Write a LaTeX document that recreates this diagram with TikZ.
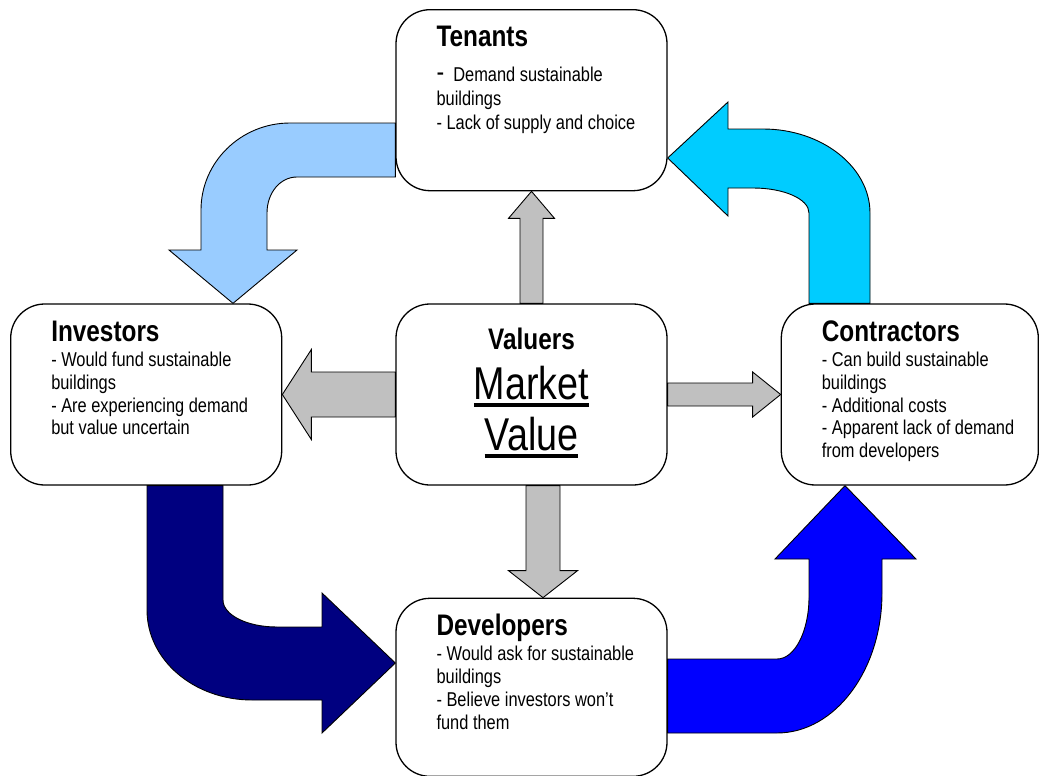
\documentclass[tikz,border=0pt]{standalone}
\usepackage{fontspec}
\setmainfont{Liberation Sans}[FakeStretch=0.82]
\usepackage{tikz}
\usetikzlibrary{positioning,calc}
\definecolor{tenantblue}{HTML}{99CCFF}
\definecolor{contractcyan}{HTML}{00CCFF}
\definecolor{investnavy}{HTML}{000080}
\definecolor{developblue}{HTML}{0000FF}
\definecolor{valuegrey}{HTML}{C0C0C0}
\newcommand{\bodyfont}{\fontsize{20}{22.8}\selectfont}
\newcommand{\headfont}{\fontsize{29.7}{34}\selectfont\bfseries}
\newcommand{\bigfont}{\fontsize{46}{51}\selectfont}
\newcommand{\ulword}[1]{\setbox0=\hbox{#1}\rlap{\rule[-8pt]{\wd0}{4pt}}\box0}
\tikzstyle{party} = [rectangle, draw, line width=1.3pt, fill=white, rounded corners=34pt,
    minimum width=271pt, minimum height=181pt, inner sep=0pt]
\tikzstyle{heading} = [anchor=base west, inner sep=0pt, font=\headfont]
\tikzstyle{bodytext} = [anchor=north west, inner sep=0pt, align=left, font=\bodyfont]
\tikzstyle{bigarrow} = [draw, line width=0.9pt, line join=miter]
% straight grey arrow: start, end, shaft half width, head half width, head length
\newcommand{\greyarrow}[5]{%
    \coordinate (hb) at ($(#2)!#5!(#1)$);
    \filldraw[bigarrow, fill=valuegrey] ($(#1)!#3!90:(#2)$) -- ($(hb)!#3!90:(#2)$)
        -- ($(hb)!#4!90:(#2)$) -- (#2) -- ($(hb)!#4!-90:(#2)$)
        -- ($(hb)!#3!-90:(#2)$) -- ($(#1)!#3!-90:(#2)$) -- cycle;}
\begin{document}
\begin{tikzpicture}[x=1pt, y=-1pt]
    \useasboundingbox (0,0) rectangle (1039,776);
    % Place nodes
    \node [party] (val) at (531.5,394.5) {};
    \node [party, above=112pt of val] (ten) {};
    \node [party, left=113pt of val] (inv) {};
    \node [party, right=113pt of val, minimum width=257pt] (con) {};
    \node [party, below=112pt of val, minimum height=178pt] (dev) {};

    % Draw edges
    \coordinate (dns) at ([xshift=11.5pt]val.south);
    \coordinate (dne) at ([xshift=11.5pt]dev.north);
    \greyarrow{val.north}{ten.south}{11.5pt}{23pt}{27pt}
    \greyarrow{val.west}{inv.east}{22.5pt}{45pt}{29pt}
    \greyarrow{val.east}{con.west}{11.5pt}{22.5pt}{28pt}
    \greyarrow{dns}{dne}{17pt}{34.5pt}{27pt}
    \filldraw [bigarrow, fill=tenantblue] (ten.west |- 0,123) -- (290,123)
        .. controls (241,123) and (201,162) .. (201,210) -- (201,250) -- (169,250)
        -- (inv.north -| 233,0) -- (297,250) -- (267,250) -- (267,213)
        .. controls (267,193) and (280,177) .. (297,177) -- (ten.west |- 0,177) -- cycle;
    \filldraw [bigarrow, fill=contractcyan] (con.north -| 809,0) -- (809,213)
        .. controls (809,199) and (784,188) .. (753,188) -- (728,188) -- (728,216)
        -- (ten.east |- 0,158) -- (728,102) -- (728,129) -- (763,129)
        .. controls (822,129) and (870,167) .. (870,213) -- (con.north -| 870,0) -- cycle;
    \filldraw [bigarrow, fill=investnavy] (inv.south -| 147,0) -- (147,610)
        .. controls (147,660) and (194,700) .. (252,700) -- (322,700) -- (322,733)
        -- (dev.west |- 0,663) -- (322,593) -- (322,627) -- (277,627)
        .. controls (247,627) and (223,615) .. (223,600) -- (inv.south -| 223,0) -- cycle;
    \filldraw [bigarrow, fill=developblue] (dev.east |- 0,733) -- (777,733)
        .. controls (835,733) and (882,670) .. (882,593) -- (882,559) -- (916,559)
        -- (con.south -| 845,0) -- (775,559) -- (809,559) -- (809,597)
        .. controls (809,631) and (795,659) .. (777,659) -- (dev.east |- 0,659) -- cycle;

    % Texts
    \node [heading] (tenhead) at ([shift={(41,37)}]ten.north west) {Tenants};
    \node [bodytext, font=\fontsize{20}{24}\selectfont] (tenbody) at ([shift={(41,56)}]ten.north west)
        {\rule{0pt}{16pt}{\fontsize{28}{24}\selectfont -}\ \ Demand sustainable\\ buildings\\ - Lack of supply and choice};
    \node [heading] (invhead) at ([shift={(41,38)}]inv.north west) {Investors};
    \node [bodytext] (invbody) at ([shift={(41,47)}]inv.north west)
        {\rule{0pt}{16pt}- Would fund sustainable\\ buildings\\ - Are experiencing demand\\ but value uncertain};
    \node [heading] (conhead) at ([shift={(41,38)}]con.north west) {Contractors};
    \node [bodytext] (conbody) at ([shift={(41,47)}]con.north west)
        {\rule{0pt}{16pt}- Can build sustainable\\ buildings\\ - Additional costs\\ - Apparent lack of demand\\ from developers};
    \node [heading] (devhead) at ([shift={(41,38)}]dev.north west) {Developers};
    \node [bodytext] (devbody) at ([shift={(41,47)}]dev.north west)
        {\rule{0pt}{16pt}- Would ask for sustainable\\ buildings\\ - Believe investors won’t\\ fund them};
    \node [anchor=base, inner sep=0pt, font=\headfont] (valuers) at ([yshift=-46pt]val.north) {Valuers};
    \node [anchor=base, inner sep=0pt, font=\bigfont] (market) at ([yshift=-96pt]val.north) {\ulword{Market}};
    \node [anchor=base, inner sep=0pt, font=\bigfont] (value) at ([yshift=-147pt]val.north) {\ulword{Value}};
\end{tikzpicture}
\end{document}
